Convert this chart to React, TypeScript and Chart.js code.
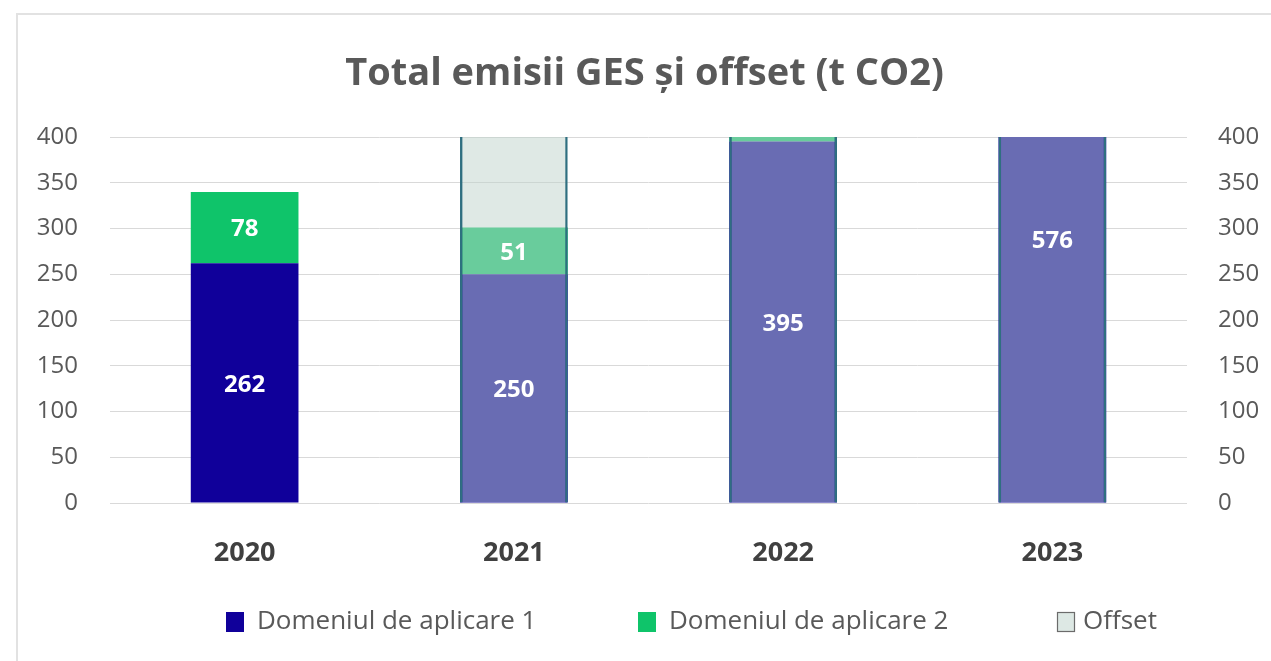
import React, { useEffect, useRef } from "react";
import { Chart, registerables } from "chart.js";

Chart.register(...registerables);

const categories = ["2020", "2021", "2022", "2023"];
const scope1 = [262, 250, 395, 576];
const scope2 = [78, 51, 10, 0];
const offset = [0, 450, 450, 600];
const yTicks = [0, 50, 100, 150, 200, 250, 300, 350, 400];
const seriesNames = ["Domeniul de aplicare 1", "Domeniul de aplicare 2", "Offset"];

const C1 = "#10009a";
const C2 = "#0fc46a";
const COFF = "rgba(192,212,204,0.51)";
const COFF_BORDER = "#2f6f80";
const TXT = "#595959";
const FONT = "'Open Sans', sans-serif";

const valueLabels = {
  id: "valueLabels",
  afterDatasetsDraw(chart: any) {
    const ctx = chart.ctx;
    const y = chart.scales.y;
    const series = [scope1, scope2];
    ctx.save();
    ctx.fillStyle = "#ffffff";
    ctx.font = `bold 24px ${FONT}`;
    ctx.textAlign = "center";
    ctx.textBaseline = "middle";
    series.forEach((vals, di) => {
      const meta = chart.getDatasetMeta(di);
      vals.forEach((v, i) => {
        if (v < 20) return;
        let base = 0;
        for (let k = 0; k < di; k++) base += series[k][i];
        const py = y.getPixelForValue(base + v / 2);
        ctx.fillText(String(v), meta.data[i].x, py + 2);
      });
    });
    ctx.restore();
  },
};

const customLegend = {
  id: "customLegend",
  afterDraw(chart: any) {
    const ctx = chart.ctx;
    const xs = [208, 620, 1039];
    const fills = [C1, C2, "#dde8e4"];
    const cy = 607;
    ctx.save();
    ctx.font = `26px ${FONT}`;
    ctx.textBaseline = "middle";
    ctx.textAlign = "left";
    seriesNames.forEach((name, i) => {
      ctx.fillStyle = fills[i];
      ctx.fillRect(xs[i], cy - 10, 18, 20);
      if (i === 2) {
        ctx.strokeStyle = "#6b6b6b";
        ctx.lineWidth = 1.2;
        ctx.strokeRect(xs[i] + 0.5, cy - 9.5, 17, 19);
      }
      ctx.fillStyle = TXT;
      ctx.fillText(name, xs[i] + (i === 2 ? 26 : 31), cy);
    });
    ctx.restore();
  },
};

export default function App() {
  const ref = useRef<HTMLCanvasElement>(null);
  useEffect(() => {
    if (!ref.current) return;
    const common = { categoryPercentage: 0.8, barPercentage: 0.5, grouped: false };
    const chart = new Chart(ref.current, {
      type: "bar",
      data: {
        labels: categories,
        datasets: [
          {
            label: seriesNames[0],
            data: scope1,
            backgroundColor: C1,
            stack: "em",
            xAxisID: "x",
            yAxisID: "y",
            order: 1,
            ...common,
          },
          {
            label: seriesNames[1],
            data: scope2,
            backgroundColor: C2,
            stack: "em",
            xAxisID: "x",
            yAxisID: "y",
            order: 1,
            ...common,
          },
          {
            label: seriesNames[2],
            data: offset,
            backgroundColor: COFF,
            borderColor: COFF_BORDER,
            borderWidth: 2.5,
            borderSkipped: "bottom",
            stack: "off",
            xAxisID: "x2",
            yAxisID: "y",
            order: 0,
            ...common,
          },
        ],
      },
      options: {
        animation: false,
        responsive: false,
        maintainAspectRatio: false,
        layout: { padding: { left: 0, right: 0, top: 0, bottom: 98 } },
        plugins: {
          legend: { display: false },
          tooltip: { enabled: false },
          title: {
            display: true,
            text: "Total emisii GES și offset (t CO2)",
            color: TXT,
            font: { family: FONT, size: 38, weight: "bold" },
            padding: { top: 36, bottom: 40.4 },
          },
        },
        scales: {
          x: {
            stacked: true,
            offset: true,
            grid: { display: false },
            border: { display: false },
            ticks: {
              color: "#404040",
              font: { family: FONT, size: 27, weight: "bold" },
              padding: 26,
            },
            afterFit: (s: any) => {
              s.height = 60;
            },
          },
          x2: {
            type: "category",
            labels: categories,
            display: false,
            offset: true,
            stacked: false,
            grid: { display: false },
          },
          y: {
            position: "left",
            stacked: true,
            min: 0,
            max: 400,
            afterBuildTicks: (s: any) => {
              s.ticks = yTicks.map((v) => ({ value: v }));
            },
            grid: { color: "#d9d9d9", lineWidth: 1, drawTicks: false },
            border: { display: false },
            ticks: {
              color: TXT,
              font: { family: FONT, size: 24 },
              padding: 32,
            },
            afterFit: (s: any) => {
              s.width = 92;
            },
          },
          y2: {
            position: "right",
            min: 0,
            max: 400,
            afterBuildTicks: (s: any) => {
              s.ticks = yTicks.map((v) => ({ value: v }));
            },
            grid: { display: false, drawTicks: false },
            border: { display: false },
            ticks: {
              color: TXT,
              font: { family: FONT, size: 24 },
              padding: 31,
            },
            afterFit: (s: any) => {
              s.width = 84;
            },
          },
        },
      },
      plugins: [valueLabels, customLegend],
    } as any);
    return () => chart.destroy();
  }, []);

  return (
    <div
      style={{
        position: "fixed",
        left: 0,
        top: 0,
        width: 1271,
        height: 661,
        background: "#ffffff",
        overflow: "hidden",
      }}
    >
      <div
        style={{
          position: "absolute",
          left: 16,
          top: 13,
          width: 1255,
          height: 648,
          borderTop: "2px solid #e2e2e2",
          borderLeft: "2px solid #e2e2e2",
        }}
      >
        <canvas ref={ref} width={1253} height={646} style={{ display: "block" }} />
      </div>
    </div>
  );
}
